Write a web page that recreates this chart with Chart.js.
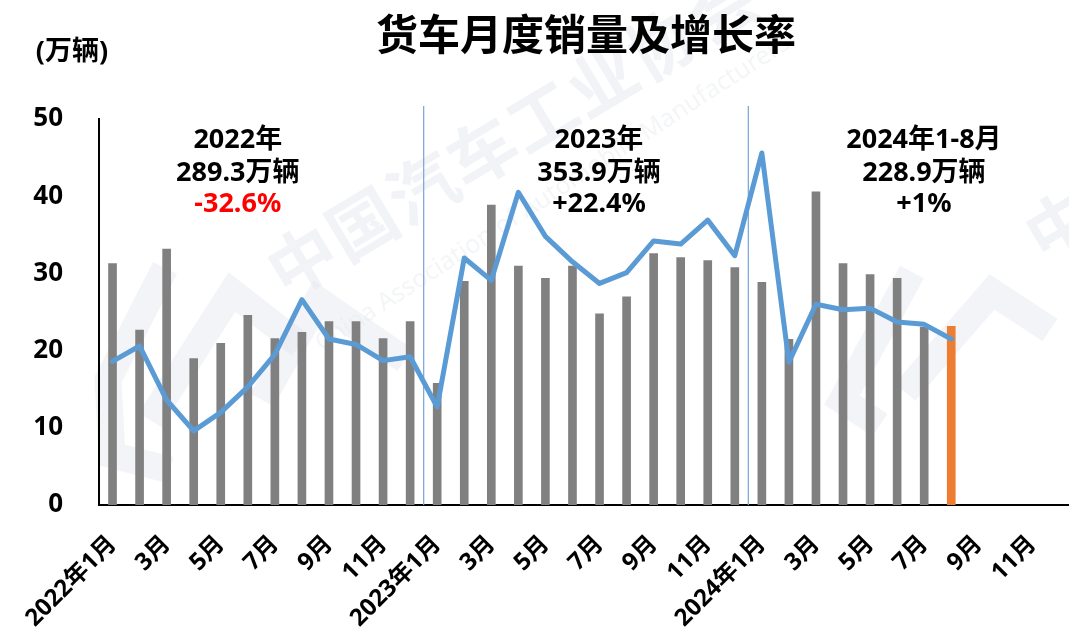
<!DOCTYPE html>
<html>
<head>
<meta charset="utf-8">
<script src="https://cdn.jsdelivr.net/npm/chart.js@4/dist/chart.umd.min.js"></script>
<style>
html,body{margin:0;padding:0;overflow:hidden;background:#fff}
#wrap{width:1073px;height:635px;position:relative}
</style>
</head>
<body>
<div id="wrap"><canvas id="c" width="1073" height="635"></canvas></div>
<script>
// ---- data ----
const categories = [
  '2022年1月','2022年2月','2022年3月','2022年4月','2022年5月','2022年6月',
  '2022年7月','2022年8月','2022年9月','2022年10月','2022年11月','2022年12月',
  '2023年1月','2023年2月','2023年3月','2023年4月','2023年5月','2023年6月',
  '2023年7月','2023年8月','2023年9月','2023年10月','2023年11月','2023年12月',
  '2024年1月','2024年2月','2024年3月','2024年4月','2024年5月','2024年6月',
  '2024年7月','2024年8月','2024年9月','2024年10月','2024年11月','2024年12月'
];
const xTickLabels = [
  '2022年1月','','3月','','5月','','7月','','9月','','11月','',
  '2023年1月','','3月','','5月','','7月','','9月','','11月','',
  '2024年1月','','3月','','5月','','7月','','9月','','11月',''
];
// monthly truck sales (万辆)
const sales = [
  31.3, 22.7, 33.2, 19.0, 21.0, 24.6, 21.6, 22.4, 23.8, 23.8, 21.6, 23.8,
  15.8, 29.0, 38.9, 31.0, 29.4, 31.0, 24.8, 27.0, 32.6, 32.1, 31.7, 30.8,
  28.9, 21.5, 40.6, 31.3, 29.9, 29.4, 23.1, 23.2, null, null, null, null
];
// growth-rate line, as drawn against the left axis
const growthLine = [
  18.6, 20.6, 13.6, 9.6, 12.0, 15.3, 19.5, 26.6, 21.5, 20.8, 18.7, 19.2,
  12.7, 32.0, 29.1, 40.5, 34.8, 31.5, 28.7, 30.1, 34.2, 33.8, 36.9, 32.3,
  45.6, 18.5, 26.0, 25.3, 25.5, 23.7, 23.4, 21.5, null, null, null, null
];
const yTicks = [0, 10, 20, 30, 40, 50];
const yearNotes = [
  ['2022年', '289.3万辆', '-32.6%'],
  ['2023年', '353.9万辆', '+22.4%'],
  ['2024年1-8月', '228.9万辆', '+1%']
];
const yearNoteCenters = [4.63, 17.98, 29.99];   // category index of each note's centre
const yearDividers = [11.5, 23.5];              // between Dec and Jan
const latestIndex = 31;

const FONT = '"Noto Sans", "Noto Sans CJK SC", sans-serif';
const CJK = '"Noto Sans CJK SC", "Noto Sans", sans-serif';

function logoStrokes(ctx, paths) {
  ctx.save();
  ctx.strokeStyle = 'rgba(226,229,237,0.42)';
  ctx.lineWidth = 27;
  ctx.lineJoin = 'miter';
  ctx.lineCap = 'butt';
  paths.forEach(p => {
    ctx.beginPath();
    p.forEach((pt, i) => i ? ctx.lineTo(pt[0], pt[1]) : ctx.moveTo(pt[0], pt[1]));
    ctx.stroke();
  });
  ctx.restore();
}

const decor = {
  id: 'decor',
  beforeDraw(chart) {
    const ctx = chart.ctx;
    ctx.save();
    // faint watermark logos
    logoStrokes(ctx, [
      [[165, 268], [108, 380], [112, 455], [170, 470]],
      [[150, 420], [232, 292], [300, 345]],
      [[262, 400], [318, 300], [405, 360]],
      [[912, 272], [842, 400], [880, 425]],
      [[905, 392], [992, 292], [1050, 330]]
    ]);
    // faint watermark text
    ctx.fillStyle = 'rgba(225,229,237,0.45)';
    ctx.font = 'bold 68px ' + CJK;
    ctx.textAlign = 'center';
    ctx.textBaseline = 'middle';
    const wm = '中国汽车工业协会';
    const ang = -31 * Math.PI / 180;
    for (let i = 0; i < wm.length; i++) {
      const cx = 302 + i * 70 * Math.cos(ang);
      const cy = 260 + i * 70 * Math.sin(ang);
      ctx.save();
      ctx.translate(cx, cy);
      ctx.rotate(ang);
      ctx.fillText(wm[i], 0, 0);
      ctx.restore();
    }
    ctx.font = 'bold 68px ' + CJK;
    ctx.save();
    ctx.translate(1060, 225);
    ctx.rotate(ang);
    ctx.fillText('中', 0, 0);
    ctx.restore();
    ctx.save();
    ctx.translate(318, 346);
    ctx.rotate(-33 * Math.PI / 180);
    ctx.font = '25px "Noto Sans", sans-serif';
    ctx.textAlign = 'left';
    ctx.fillStyle = 'rgba(228,232,238,0.45)';
    ctx.fillText('China Association of Automobile Manufacturers', 0, 0);
    ctx.restore();
    ctx.restore();
  },
  beforeDatasetsDraw(chart) {
    const {ctx, scales: {x, y}, chartArea} = chart;
    ctx.save();
    ctx.strokeStyle = '#7FAADB';
    ctx.lineWidth = 1.3;
    yearDividers.forEach(v => {
      const px = x.getPixelForValue(v);
      ctx.beginPath();
      ctx.moveTo(px, y.getPixelForValue(51.7));
      ctx.lineTo(px, chartArea.bottom);
      ctx.stroke();
    });
    ctx.restore();
  },
  afterDraw(chart) {
    const {ctx, scales: {x, y}, chartArea} = chart;
    ctx.save();
    ctx.fillStyle = '#000';
    ctx.textAlign = 'center';
    ctx.textBaseline = 'middle';
    // title centred over plot area
    ctx.font = 'bold 42px ' + CJK;
    ctx.fillText('货车月度销量及增长率', (chartArea.left + chartArea.right) / 2, 34);
    // unit
    ctx.font = 'bold 27px ' + FONT;
    ctx.fillText('(万辆)', 72, 52);
    // year notes
    ctx.font = 'bold 27px ' + FONT;
    const lineVals = [47.2, 43.0, 38.95];
    yearNotes.forEach((lines, k) => {
      const cx = x.getPixelForValue(yearNoteCenters[k]);
      lines.forEach((t, j) => {
        ctx.fillStyle = (k === 0 && j === 2) ? '#FF0000' : '#000';
        ctx.fillText(t, cx, y.getPixelForValue(lineVals[j]));
      });
    });
    ctx.restore();
  }
};

new Chart(document.getElementById('c'), {
  type: 'bar',
  data: {
    labels: categories,
    datasets: [
      {
        type: 'line',
        data: growthLine,
        borderColor: '#5B9BD5',
        borderWidth: 5,
        pointRadius: 0,
        tension: 0,
        borderJoinStyle: 'round',
        borderCapStyle: 'round',
        fill: false,
        order: 1
      },
      {
        type: 'bar',
        data: sales,
        backgroundColor: sales.map((v, i) => i === latestIndex ? '#ED7D31' : '#808080'),
        categoryPercentage: 1,
        barPercentage: 0.32,
        order: 2
      }
    ]
  },
  options: {
    responsive: false,
    animation: false,
    devicePixelRatio: 1,
    layout: { padding: { top: 119, left: 0, right: 0, bottom: 0 } },
    plugins: { legend: { display: false }, tooltip: { enabled: false }, title: { display: false } },
    scales: {
      x: {
        grid: { display: false, drawTicks: false },
        border: { display: true, color: '#000', width: 2 },
        ticks: {
          autoSkip: false, minRotation: 45, maxRotation: 45, padding: 25,
          color: '#000', font: { family: FONT, size: 24, weight: 'bold' },
          callback: (v, i) => xTickLabels[i]
        },
        afterFit: s => { s.height = 130; s.paddingLeft = 0; s.paddingRight = 0; }
      },
      y: {
        min: 0, max: 50,
        afterBuildTicks: s => { s.ticks = yTicks.map(v => ({ value: v })); },
        grid: { display: false, drawTicks: false },
        border: { display: true, color: '#000', width: 2 },
        ticks: { padding: 36, color: '#000', font: { family: FONT, size: 26, weight: 'bold' } },
        afterFit: s => { s.width = 99; s.paddingTop = 0; s.paddingBottom = 0; }
      }
    }
  },
  plugins: [decor]
});
</script>
</body>
</html>
